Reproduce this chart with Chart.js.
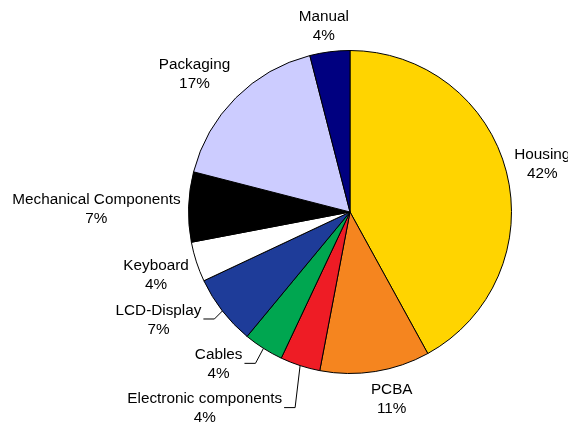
<!DOCTYPE html>
<html>
<head>
<meta charset="utf-8">
<script src="https://cdn.jsdelivr.net/npm/chart.js@4.4.1/dist/chart.umd.min.js"></script>
<style>
  html, body { margin: 0; padding: 0; background: #fff; }
  #wrap { width: 568px; height: 428px; }
</style>
</head>
<body>
<div id="wrap"><canvas id="myChart" width="568" height="428"></canvas></div>
<script>
// Cost breakdown, in percent of total
var categorias = ['Housing', 'PCBA', 'Electronic components', 'Cables', 'LCD-Display',
                  'Keyboard', 'Mechanical Components', 'Packaging', 'Manual'];
var valores = [42, 11, 4, 4, 7, 4, 7, 17, 4];
var cores = ['#FFD400', '#F5851F', '#EE1C25', '#00A650', '#1E3C99',
             '#FFFFFF', '#000000', '#CCCCFF', '#000080'];

var fonte = '15.3px "Liberation Sans", Arial, sans-serif';
var alturaLinha = 19;

// Draws "name / xx%" labels around the pie, with elbow leader lines
// for the narrow slices at the bottom left
var rotulosPlugin = {
  id: 'rotulos',
  afterDatasetsDraw: function (chart, args, opts) {
    var ctx = chart.ctx;
    var arcs = chart.getDatasetMeta(0).data;
    var total = valores.reduce(function (a, b) { return a + b; }, 0);

    ctx.save();
    ctx.font = fonte;
    ctx.fillStyle = '#000';
    ctx.strokeStyle = '#000';
    ctx.lineWidth = 1;
    ctx.textBaseline = 'middle';
    ctx.textAlign = 'center';

    arcs.forEach(function (arc, i) {
      var p = arc.getProps(['x', 'y', 'startAngle', 'endAngle', 'outerRadius'], true);
      var meio = (p.startAngle + p.endAngle) / 2;
      var dx = Math.cos(meio), dy = Math.sin(meio);
      var linhas = [categorias[i], Math.round(valores[i] / total * 100) + '%'];
      var largura = Math.max.apply(null, linhas.map(function (t) { return ctx.measureText(t).width; }));
      var cx, cy;

      var leader = opts.leaders[i];
      if (leader) {
        var ex = p.x + dx * p.outerRadius, ey = p.y + dy * p.outerRadius;
        var kx = ex + leader[0], ky = ey + leader[1];
        ctx.beginPath();
        ctx.moveTo(ex, ey);
        ctx.lineTo(kx, ky);
        ctx.lineTo(kx - 11, ky);
        ctx.stroke();
        cx = kx - 13 - largura / 2;
        cy = ky + 1;
      } else {
        var r = p.outerRadius + opts.gap;
        var px = p.x + dx * r, py = p.y + dy * r;
        var fx = Math.max(-1, Math.min(1, dx * 1.6));
        var fy = Math.max(-1, Math.min(1, dy * 1.6));
        cx = px + fx * largura / 2;
        cy = py + fy * alturaLinha + 1.5;
        var n = opts.nudges[i];
        if (n) { cx += n[0]; cy += n[1]; }
      }

      ctx.fillText(linhas[0], cx, cy - alturaLinha / 2);
      ctx.fillText(linhas[1], cx, cy + alturaLinha / 2);
    });
    ctx.restore();
  }
};

var ctx = document.getElementById('myChart').getContext('2d');

var myChart = new Chart(ctx, {
  type: 'pie',
  data: {
    labels: categorias,
    datasets: [{
      data: valores,
      backgroundColor: cores,
      borderColor: '#000',
      borderWidth: 1
    }]
  },
  options: {
    responsive: false,
    animation: false,
    layout: { padding: { left: 188, right: 56, top: 50, bottom: 54 } },
    plugins: {
      legend: { display: false },
      tooltip: { enabled: false },
      rotulos: {
        gap: 8,
        leaders: { 2: [-5, 42], 3: [-8, 15], 4: [-8, 8] },
        nudges: { 1: [10, -1], 6: [0, 2] }
      }
    }
  },
  plugins: [rotulosPlugin]
});
</script>
</body>
</html>
